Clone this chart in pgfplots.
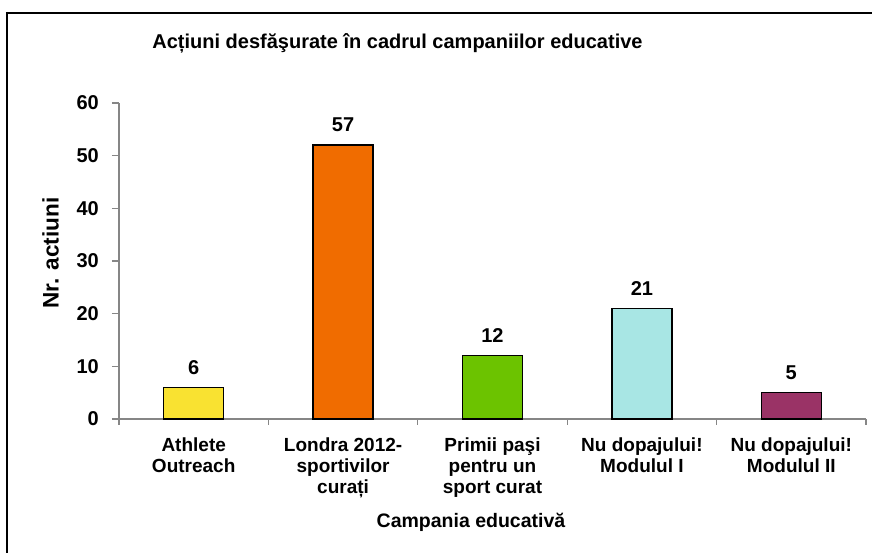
\documentclass[border=0pt]{standalone}
\usepackage{fontspec}
\setmainfont{Liberation Sans}
\usepackage{pgfplots}
\pgfplotsset{compat=1.18}
\definecolor{cyellow}{HTML}{F9E231}
\definecolor{corange}{HTML}{F06C00}
\definecolor{cgreen}{HTML}{6CC300}
\definecolor{ccyan}{HTML}{A8E6E4}
\definecolor{cpurple}{HTML}{9A3366}
\definecolor{axisgray}{HTML}{868686}

\begin{document}
\begin{tikzpicture}
\path[use as bounding box] (-119pt,-134pt) rectangle (753pt,419pt);
\draw[black,line width=2pt] (-113pt,406pt) -- (753pt,406pt);
\draw[black,line width=1.6pt] (-112pt,407pt) -- (-112pt,-134pt);
\begin{axis}[
  at={(0,0)}, anchor=south west,
  scale only axis,
  width=747pt, height=316pt,
  ybar, bar width=60pt, bar shift=0pt,
  xmin=-0.5, xmax=4.5,
  ymin=0, ymax=60,
  ytick={0,10,...,60},
  xtick={0,1,2,3,4},
  xticklabels={Athlete\\Outreach,Londra 2012-\\sportivilor\\curați,Primii paşi\\pentru un\\sport curat,Nu dopajului!\\Modulul I,Nu dopajului!\\Modulul II},
  minor xtick={-0.5,0.5,...,4.5},
  major x tick style={draw=none},
  tick align=outside,
  major tick length=7pt,
  minor tick length=6pt,
  tick style={axisgray,line width=1.2pt},
  axis lines*=left,
  axis line style={axisgray,line width=1.3pt,-},
  /pgf/number format/assume math mode=true,
  yticklabel style={font=\fontsize{20}{22}\selectfont\bfseries,inner sep=0pt,xshift=-13pt},
  xticklabel style={font=\fontsize{19}{21}\selectfont\bfseries,align=center,inner sep=0pt,anchor=north,yshift=-12pt},
  every axis plot/.append style={draw=black,line width=1.3pt},
  nodes near coords,
  point meta=explicit symbolic,
  every node near coord/.append style={font=\fontsize{20}{22}\selectfont\bfseries,black,yshift=9pt},
  clip=false,
]
\addplot[fill=cyellow] coordinates {(0,6) [6]};
\addplot[fill=corange] coordinates {(1,52) [57]};
\addplot[fill=cgreen] coordinates {(2,12) [12]};
\addplot[fill=ccyan] coordinates {(3,21) [21]};
\addplot[fill=cpurple] coordinates {(4,5) [5]};
\end{axis}
\node[font=\fontsize{20}{22}\selectfont\bfseries] at (278.5pt,376pt) {Acțiuni desfăşurate în cadrul campaniilor educative};
\node[font=\fontsize{22.5}{24}\selectfont\bfseries,rotate=90] at (-68.5pt,166pt) {Nr. actiuni};
\node[font=\fontsize{19.5}{22}\selectfont\bfseries] at (352pt,-103pt) {Campania educativă};
\end{tikzpicture}
\end{document}
